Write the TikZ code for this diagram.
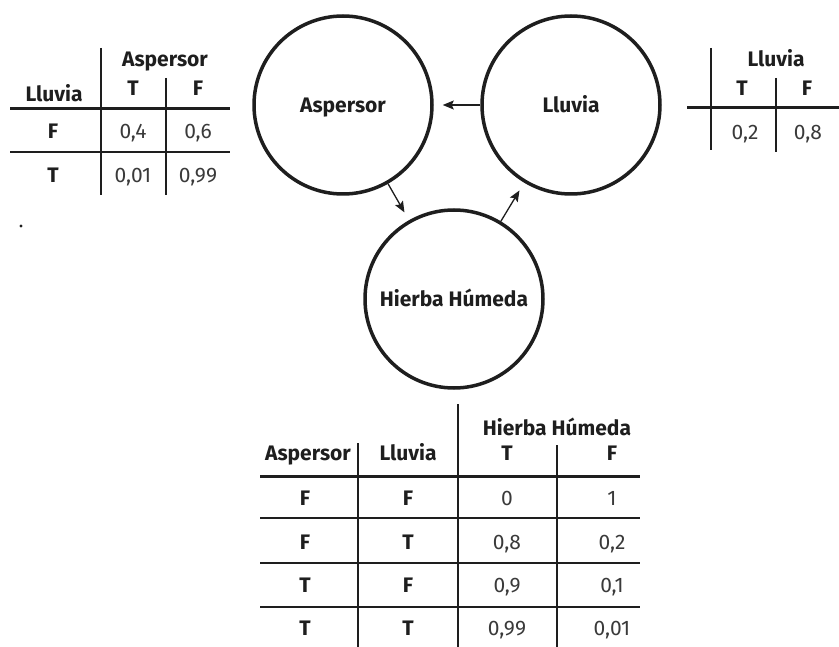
\documentclass[tikz,border=0pt]{standalone}
\usepackage{fontspec}
\setmainfont{Fira Sans}
\usetikzlibrary{arrows.meta}
\definecolor{ink}{HTML}{1E1E1E}
\definecolor{num}{HTML}{3A3A3A}

\begin{document}
\begin{tikzpicture}[x=1pt, y=-1pt, every node/.style={inner sep=0pt, text height=15pt, text depth=0pt, text=ink},
  var/.style={circle, draw=ink, line width=3.5pt, minimum size=178pt, font=\fontsize{21}{25}\selectfont\bfseries},
  hd/.style={font=\fontsize{21}{25}\selectfont\bfseries},
  val/.style={font=\fontsize{21}{25}\selectfont, text=num},
  arr/.style={draw=ink, line width=1.3pt, -{Stealth[length=11pt,width=9pt,inset=2pt]}, shorten >=9pt},
  rule/.style={draw=ink, line width=3pt},
  thin/.style={draw=ink, line width=1.6pt}]
  \fill[white] (0,0) rectangle (839,647);
  \useasboundingbox (0,0) rectangle (839,647);

  % the three variables
  \node[var] (asp) at (343,105) {Aspersor};
  \node[var] (llu) at (571,105) {Lluvia};
  \node[var] (hh) at (454,299) {Hierba Húmeda};
  \draw[arr] (llu) -- (asp);
  \draw[arr] (asp) -- (hh);
  \draw[arr] (hh) -- (llu);

  % P(Aspersor | Lluvia)
  \draw[thin] (101,48) -- (101,195);
  \draw[thin] (166,78) -- (166,195);
  \draw[rule] (10,109) -- (230,109);
  \draw[thin] (10,152) -- (230,152);
  \node[hd] (a-head) at (165,59) {Aspersor};
  \node[hd] (a-cond) at (54,94) {Lluvia};
  \node[hd] (a-t) at (133,88) {T};
  \node[hd] (a-f) at (198,88) {F};
  \node[hd] (a-r1) at (53,131) {F};
  \node[val] (a-r1t) at (133,131) {0,4};
  \node[val] (a-r1f) at (198,131) {0,6};
  \node[hd] (a-r2) at (53,175) {T};
  \node[val] (a-r2t) at (133,175) {0,01};
  \node[val] (a-r2f) at (198,175) {0,99};
  \fill[ink] (21,226) circle (1.6pt);

  % P(Lluvia)
  \draw[thin] (711,48) -- (711,150);
  \draw[thin] (776,78) -- (776,152);
  \draw[rule] (687,108) -- (839,108);
  \node[hd] (l-head) at (776,59) {Lluvia};
  \node[hd] (l-t) at (742,88) {T};
  \node[hd] (l-f) at (807,88) {F};
  \node[val] (l-pt) at (745,132) {0,2};
  \node[val] (l-pf) at (808,132) {0,8};

  % P(Hierba Humeda | Aspersor, Lluvia)
  \draw[thin] (358,443) -- (358,647);
  \draw[thin] (458,404) -- (458,647);
  \draw[thin] (557,445) -- (557,647);
  \draw[rule] (260,476) -- (640,476);
  \foreach \y in {518,563,607}
    \draw[thin] (260,\y) -- (640,\y);
  \node[hd] (h-head) at (557,428) {Hierba Húmeda};
  \node[hd] (h-asp) at (308,453) {Aspersor};
  \node[hd] (h-llu) at (408,453) {Lluvia};
  \node[hd] (h-t) at (507,453) {T};
  \node[hd] (h-f) at (612,453) {F};
  \foreach \a/\b/\t/\f/\y [count=\i] in {F/F/0/1/498, F/T/0{,}8/0{,}2/542, T/F/0{,}9/0{,}1/585, T/T/0{,}99/0{,}01/628} {
    \node[hd] (r\i-asp) at (305,\y) {\a};
    \node[hd] (r\i-llu) at (408,\y) {\b};
    \node[val] (r\i-t) at (507,\y) {\t};
    \node[val] (r\i-f) at (612,\y) {\f};
  }
\end{tikzpicture}
\end{document}
